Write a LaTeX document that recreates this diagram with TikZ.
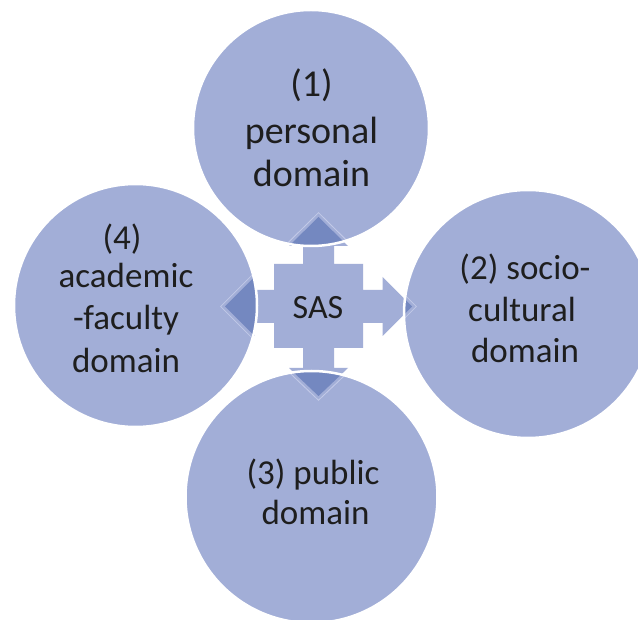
\documentclass[tikz,border=0pt]{standalone}
\usepackage{fontspec}
\setmainfont{Carlito}
\definecolor{circfill}{HTML}{A2AED7}
\definecolor{headfill}{HTML}{7488C0}
\definecolor{headline}{HTML}{C3CAE8}
\definecolor{inktext}{HTML}{1E1E1E}
% outline of the central quad arrow, pixel coordinates
\newcommand\sasarrowpath{(318.5,217) -- (348,246) -- (334,246) -- (334,264) -- (363,264) -- (363,290)
  -- (382.5,290) -- (382.5,277) -- (412,306.5) -- (382.5,336) -- (382.5,323) -- (363,323)
  -- (363,348) -- (334,348) -- (334,368) -- (348,368) -- (318.5,396) -- (289,368) -- (303,368)
  -- (303,348) -- (274,348) -- (274,323) -- (254.5,323) -- (254.5,336) -- (225,306.5)
  -- (254.5,277) -- (254.5,290) -- (274,290) -- (274,264) -- (303,264) -- (303,246)
  -- (289,246) -- cycle}
\tikzset{
  domcircle/.style={circle, minimum size=2*#1, inner sep=0pt, fill=circfill},
  ring/.style={draw=white, line width=2.5pt},
  domtext/.style={anchor=base, text=inktext, inner sep=0pt,
    font=\fontsize{35}{42}\selectfont},
  toptext/.style={domtext, font=\fontsize{38}{45}\selectfont},
}
\begin{document}
\begin{tikzpicture}[x=1pt,y=-1pt]
\fill[white] (0,0) rectangle (638,620);
\useasboundingbox (0,0) rectangle (638,620);

% central arrow
\fill[circfill] \sasarrowpath;

% the four domain circles
\node[domcircle=118pt] (c1) at (311,128) {};
\node[domcircle=124pt] (c2) at (528,314) {};
\node[domcircle=126pt] (c3) at (311.5,497) {};
\node[domcircle=121.5pt] (c4) at (135.5,305.5) {};

% arrow parts lying under the circles, and the white rims
\foreach \c/\r in {c1/118pt,c2/124pt,c3/126pt,c4/121.5pt}{
  \begin{scope}
    \clip (\c.center) circle[radius=\r];
    \draw[headline, line width=7pt, line join=miter] \sasarrowpath;
    \draw[circfill, line width=5pt, line join=miter] \sasarrowpath;
    \fill[headfill] \sasarrowpath;
  \end{scope}
  \draw[ring] (\c.center) circle[radius=\r];
}

% texts
\node[toptext] (t1a) at (311.5,97) {(1)};
\node[toptext] (t1b) at (311.5,144) {personal};
\node[toptext] (t1c) at (311.5,187) {domain};

\node[domtext] (t2a) at (525,280) {(2) socio-};
\node[domtext] (t2b) at (522,322) {cultural};
\node[domtext] (t2c) at (525,363) {domain};

\node[domtext] (t3a) at (313,485) {(3) public};
\node[domtext] (t3b) at (315.5,525) {domain};

\node[domtext] (t4a) at (122,250) {(4)};
\node[domtext] (t4b) at (126,288) {academic};
\node[domtext] (t4c) at (126,330) {-faculty};
\node[domtext] (t4d) at (126,373) {domain};

\node[domtext, font=\fontsize{34}{40}\selectfont] (sas) at (318,319) {SAS};
\end{tikzpicture}
\end{document}
